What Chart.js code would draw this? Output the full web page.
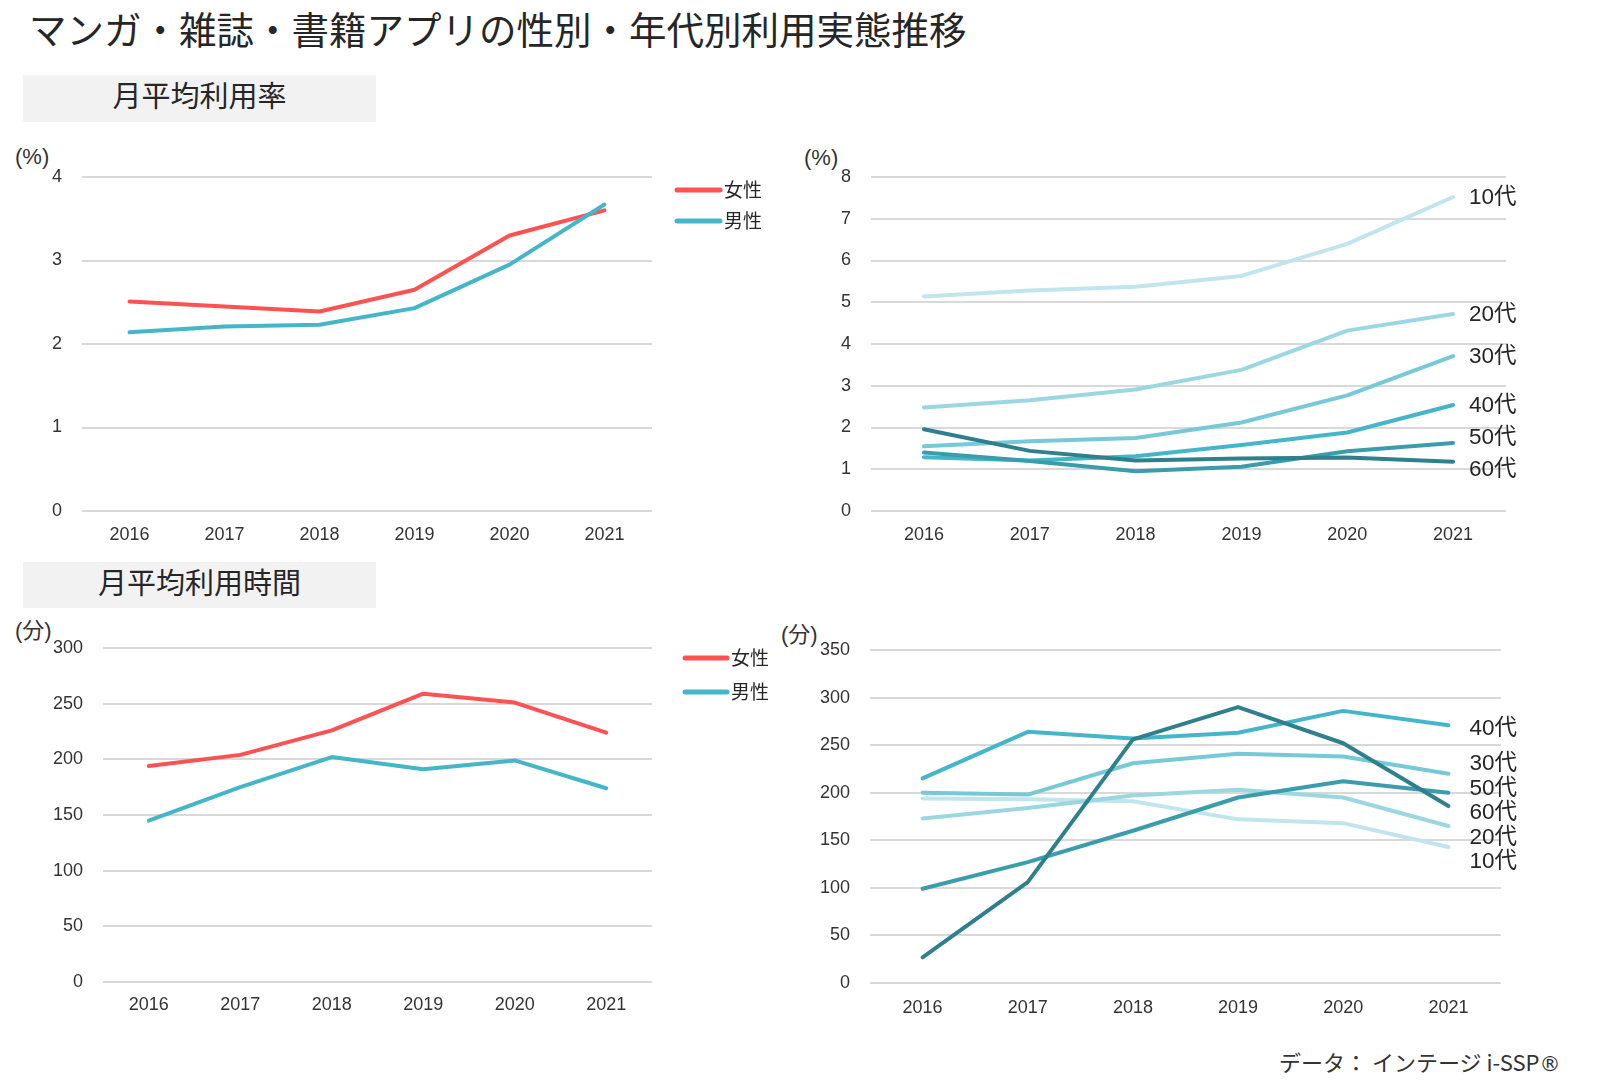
<!DOCTYPE html>
<html lang="ja">
<head>
<meta charset="utf-8">
<title>マンガ・雑誌・書籍アプリの性別・年代別利用実態推移</title>
<script src="https://cdn.jsdelivr.net/npm/chart.js@4.4.1/dist/chart.umd.min.js"></script>
<style>
  body { margin: 0; background: #fff; font-family: 'Noto Sans CJK JP', sans-serif; color: #262626; }
  #page { position: relative; width: 1617px; height: 1092px; overflow: hidden; }
  .title { position: absolute; left: 29px; top: 6px; font-size: 37.5px; line-height: 44px; white-space: nowrap; }
  .section { position: absolute; left: 23px; width: 353px; background: #f2f2f2; font-size: 29px; text-align: center; }
  .section span { position: relative; top: -4px; }
  .unit { position: absolute; font-size: 22px; line-height: 24px; font-family: 'Liberation Sans', 'Noto Sans CJK JP', sans-serif; color: #333; }
  .box { position: absolute; }
  .source { position: absolute; left: 1279px; top: 1048px; font-size: 22px; line-height: 26px; white-space: nowrap; color: #333; }
  .source .r { font-family: 'DejaVu Sans', sans-serif; font-size: 21px; }
</style>
</head>
<body>
<div id="page">
  <div class="title">マンガ・雑誌・書籍アプリの性別・年代別利用実態推移</div>

  <div class="section" style="top:75px;height:47px;line-height:47px;"><span>月平均利用率</span></div>
  <div class="section" style="top:562px;height:46px;line-height:46px;"><span>月平均利用時間</span></div>

  <div class="unit" style="left:15px;top:145px;">(%)</div>
  <div class="unit" style="left:804px;top:146px;">(%)</div>
  <div class="unit" style="left:15px;top:619px;">(分)</div>
  <div class="unit" style="left:781px;top:623px;">(分)</div>

  <div class="box" style="left:0;top:130px;"><canvas id="genderRateChart" width="790" height="421"></canvas></div>
  <div class="box" style="left:790px;top:130px;"><canvas id="ageRateChart" width="827" height="421"></canvas></div>
  <div class="box" style="left:0;top:600px;"><canvas id="genderTimeChart" width="790" height="422"></canvas></div>
  <div class="box" style="left:790px;top:600px;"><canvas id="ageTimeChart" width="827" height="423"></canvas></div>

  <div class="source">データ： インテージ i-SSP<span class="r">®</span></div>
</div>

<script>
  'use strict';

  // Categories
  const years = ['2016', '2017', '2018', '2019', '2020', '2021'];
  const genders = ['女性', '男性'];
  const ages = ['10代', '20代', '30代', '40代', '50代', '60代'];

  // 月平均利用率 (%) by gender
  const rateFemale = [2.51, 2.45, 2.39, 2.65, 3.30, 3.60];
  const rateMale = [2.14, 2.21, 2.23, 2.43, 2.95, 3.67];

  // 月平均利用率 (%) by age
  const rate10s = [5.14, 5.28, 5.37, 5.63, 6.40, 7.52];
  const rate20s = [2.48, 2.65, 2.91, 3.38, 4.32, 4.72];
  const rate30s = [1.55, 1.67, 1.75, 2.12, 2.77, 3.71];
  const rate40s = [1.29, 1.21, 1.31, 1.58, 1.88, 2.54];
  const rate50s = [1.40, 1.20, 0.95, 1.06, 1.43, 1.63];
  const rate60s = [1.96, 1.44, 1.21, 1.26, 1.28, 1.18];

  // 月平均利用時間 (分) by gender
  const timeFemale = [194, 204, 226, 259, 251, 224];
  const timeMale = [145, 175, 202, 191, 199, 174];

  // 月平均利用時間 (分) by age
  const time10s = [194, 193, 191, 172, 168, 143];
  const time20s = [173, 184, 197, 203, 195, 165];
  const time30s = [200, 198, 231, 241, 238, 220];
  const time40s = [215, 264, 257, 263, 286, 271];
  const time50s = [99, 127, 160, 195, 212, 200];
  const time60s = [27, 106, 256, 290, 252, 186];

  // Y axis ticks: [min, max, step]
  const rateGenderTicks = [0, 4, 1];
  const rateAgeTicks = [0, 8, 1];
  const timeGenderTicks = [0, 300, 50];
  const timeAgeTicks = [0, 350, 50];

  // Colors
  const genderColors = ['#fd5252', '#45b5c8'];
  const ageColors = ['#c0e5ec', '#9bd7e1', '#76c9d6', '#45b5c9', '#3b9dab', '#2e808c'];

  Chart.defaults.font.family = "'Liberation Sans', 'Noto Sans CJK JP', sans-serif";
  Chart.defaults.font.size = 18;
  Chart.defaults.color = '#333';

  // spread end labels so they don't overlap
  function spreadLabels(items, gap) {
    const place = g => {
      const n = g.members.length;
      g.top = g.mean - (n - 1) * gap / 2;
      g.bottom = g.top + (n - 1) * gap;
      g.members.forEach((m, k) => { m.ly = g.top + k * gap; });
    };
    const groups = items.map(it => ({ members: [it], mean: it.y }));
    groups.forEach(place);
    let merged = true;
    while (merged) {
      merged = false;
      for (let i = 0; i < groups.length - 1; i++) {
        if (groups[i + 1].top - groups[i].bottom < gap) {
          const members = groups[i].members.concat(groups[i + 1].members);
          const g = { members, mean: members.reduce((s, m) => s + m.y, 0) / members.length };
          place(g);
          groups.splice(i, 2, g);
          merged = true;
          break;
        }
      }
    }
  }

  // legend / end label plugin
  const sideText = {
    id: 'sideText',
    afterDatasetsDraw(chart, args, opts) {
      const ctx = chart.ctx;
      const area = chart.chartArea;
      ctx.save();
      ctx.font = opts.font;
      ctx.fillStyle = '#262626';
      ctx.textBaseline = 'middle';
      if (opts.mode === 'legend') {
        chart.data.datasets.forEach((ds, i) => {
          const y = area.top + opts.top + i * opts.gap;
          const x0 = area.right + opts.left;
          ctx.strokeStyle = ds.borderColor;
          ctx.lineWidth = 5;
          ctx.lineCap = 'round';
          ctx.beginPath();
          ctx.moveTo(x0, y);
          ctx.lineTo(x0 + opts.lineLen, y);
          ctx.stroke();
          ctx.fillText(ds.label, x0 + opts.lineLen + 4, y);
        });
      } else {
        const items = chart.data.datasets.map((ds, i) => {
          const meta = chart.getDatasetMeta(i);
          const pt = meta.data[meta.data.length - 1];
          return { label: ds.label, x: pt.x, y: pt.y };
        }).sort((a, b) => a.y - b.y);
        spreadLabels(items, opts.gap);
        items.forEach(it => ctx.fillText(it.label, it.x + opts.offset, it.ly + opts.dy));
      }
      ctx.restore();
    }
  };

  function makeDatasets(labels, series, colors) {
    // later series are drawn on top
    return series.map((data, i) => ({
      label: labels[i],
      data: data,
      borderColor: colors[i],
      backgroundColor: colors[i],
      borderWidth: 4,
      borderCapStyle: 'round',
      borderJoinStyle: 'round',
      pointRadius: 0,
      tension: 0,
      order: series.length - i
    }));
  }

  function makeChart(id, datasets, ticks, layout, side) {
    const ctx = document.getElementById(id).getContext('2d');
    return new Chart(ctx, {
      type: 'line',
      data: { labels: years, datasets: datasets },
      plugins: [sideText],
      options: {
        responsive: false,
        animation: false,
        layout: { padding: { top: layout.top, right: layout.right, left: 0, bottom: 0 } },
        plugins: {
          legend: { display: false },
          tooltip: { enabled: false },
          sideText: side
        },
        scales: {
          x: {
            offset: true,
            grid: { display: false, drawTicks: false },
            border: { display: false },
            ticks: { padding: layout.xPad, color: '#333', maxRotation: 0 },
            afterFit: scale => { scale.height = 40; }
          },
          y: {
            min: ticks[0],
            max: ticks[1],
            grid: { color: '#d9d9d9', lineWidth: 2, drawTicks: false },
            border: { display: false },
            ticks: { stepSize: ticks[2], padding: 20, color: '#333' },
            afterFit: scale => { scale.width = layout.yWidth; }
          }
        }
      }
    });
  }

  function initializeCharts() {
    makeChart('genderRateChart',
      makeDatasets(genders, [rateFemale, rateMale], genderColors),
      rateGenderTicks,
      { top: 47, right: 138, yWidth: 82, xPad: 13 },
      { mode: 'legend', font: "19px 'Noto Sans CJK JP'", left: 25, lineLen: 43, top: 13, gap: 31 });

    makeChart('ageRateChart',
      makeDatasets(ages, [rate10s, rate20s, rate30s, rate40s, rate50s, rate60s], ageColors),
      rateAgeTicks,
      { top: 47, right: 111, yWidth: 81, xPad: 13 },
      { mode: 'end', font: "22.5px 'Liberation Sans', 'Noto Sans CJK JP'", offset: 16, gap: 32, dy: 1 });

    makeChart('genderTimeChart',
      makeDatasets(genders, [timeFemale, timeMale], genderColors),
      timeGenderTicks,
      { top: 48, right: 138, yWidth: 103, xPad: 12 },
      { mode: 'legend', font: "19px 'Noto Sans CJK JP'", left: 33, lineLen: 42, top: 10, gap: 34 });

    makeChart('ageTimeChart',
      makeDatasets(ages, [time10s, time20s, time30s, time40s, time50s, time60s], ageColors),
      timeAgeTicks,
      { top: 50, right: 116, yWidth: 80, xPad: 14 },
      { mode: 'end', font: "22.5px 'Liberation Sans', 'Noto Sans CJK JP'", offset: 21, gap: 24.5, dy: 4 });
  }

  initializeCharts();
</script>
</body>
</html>
